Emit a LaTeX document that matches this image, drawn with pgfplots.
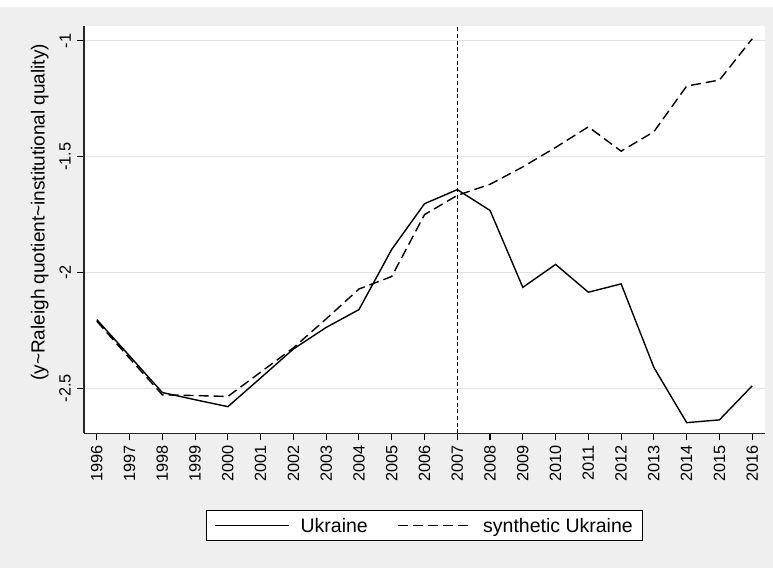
\documentclass[border=0pt]{standalone}
\usepackage{pgfplots}
\pgfplotsset{compat=1.18}
\usepackage{fontspec}
\setmainfont{Liberation Sans}
\definecolor{bg}{RGB}{239,239,239}
\definecolor{gridc}{RGB}{226,226,226}
\begin{document}
\begin{tikzpicture}[x=1pt,y=1pt]
\fill[bg] (0,0) rectangle (773,568);
\fill[white] (0,561) rectangle (773,568);
\begin{axis}[
  at={(84pt,134.7pt)}, anchor=south west,
  scale only axis, width=681pt, height=407pt,
  xmin=1995.61, xmax=2016.39, ymin=-2.694, ymax=-0.937,
  axis x line*=bottom, axis y line*=left,
  axis line style={line width=1.3pt, black!85, -},
  axis background/.style={fill=white},
  xtick={1996,...,2016},
  xticklabels={1996,1997,1998,1999,2000,2001,2002,2003,2004,2005,2006,2007,2008,2009,2010,2011,2012,2013,2014,2015,2016},
  ytick={-2.5,-2,-1.5,-1},
  yticklabels={-2.5,-2,-1.5,-1},
  tick align=outside, major tick length=7pt,
  tick style={black, line width=1.1pt},
  xtick pos=bottom, ytick pos=left,
  ymajorgrids, grid style={gridc, line width=1.2pt},
  ticklabel style={font=\fontsize{16.3}{18}\selectfont},
  xticklabel style={yshift=-5pt, rotate=90, anchor=east, inner sep=0pt},
  yticklabel style={xshift=-6pt, rotate=90, anchor=south, inner sep=0pt},
  ylabel={(y\char`~Raleigh quotient\char`~institutional quality)},
  ylabel style={font=\fontsize{19}{22}\selectfont, at={(axis description cs:-0.065,0.543)}, anchor=center, rotate=0},
  legend style={draw=black, line width=0.8pt, fill=white, at={(0.5,-0.227)}, anchor=center,
    legend columns=2, font=\fontsize{19.5}{22}\selectfont,
    /tikz/every odd column/.append style={column sep=9pt},
    /tikz/every even column/.append style={column sep=27pt},
    inner xsep=8pt, inner ysep=5pt},
  legend cell align=left,
  legend image code/.code={\draw[#1] (0pt,0pt) -- (74pt,0pt);},
]
\addplot[black, line width=1.2pt, dash pattern=on 4pt off 2.7pt, forget plot] coordinates {(2007,-2.694) (2007,-0.937)};
\addplot[black, line width=1.4pt] coordinates {
(1996,-2.203) (1997,-2.36) (1998,-2.518) (1999,-2.549) (2000,-2.579)
(2001,-2.455) (2002,-2.330) (2003,-2.237) (2004,-2.160) (2005,-1.900)
(2006,-1.703) (2007,-1.642) (2008,-1.732) (2009,-2.064) (2010,-1.965)
(2011,-2.085) (2012,-2.049) (2013,-2.410) (2014,-2.648) (2015,-2.636) (2016,-2.489)};
\addlegendentry{Ukraine}
\addplot[black, line width=1.4pt, dash pattern=on 10pt off 5pt] coordinates {
(1996,-2.210) (1997,-2.370) (1998,-2.528) (1999,-2.531) (2000,-2.535)
(2001,-2.430) (2002,-2.325) (2003,-2.200) (2004,-2.071) (2005,-2.017)
(2006,-1.750) (2007,-1.667) (2008,-1.619) (2009,-1.544) (2010,-1.460)
(2011,-1.371) (2012,-1.476) (2013,-1.392) (2014,-1.195) (2015,-1.169) (2016,-0.991)};
\addlegendentry{synthetic Ukraine}
\end{axis}
\end{tikzpicture}
\end{document}
